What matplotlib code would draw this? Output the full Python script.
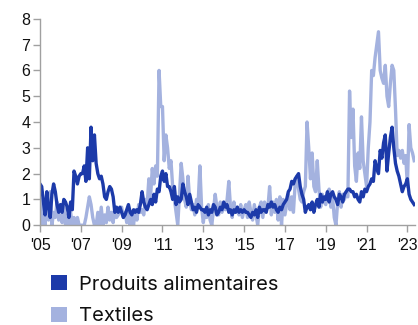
import numpy as np
import matplotlib
matplotlib.use("Agg")
import matplotlib.pyplot as plt
from matplotlib.patches import Patch

# Monthly values, Jan 2005 onwards
food = [
    1.6, 1.5, 0.9, 0.4, 1.3, 0.7, 0.3, 1.2, 1.6, 1.3, 0.8, 0.5,   # 2005
    0.8, 0.5, 1.0, 0.9, 0.7, 0.3, 0.9, 0.6, 2.1, 1.9, 1.6, 1.9,   # 2006
    2.0, 2.0, 2.3, 1.7, 3.0, 1.8, 3.8, 2.5, 3.5, 2.4, 2.0, 1.8,   # 2007
    1.9, 1.6, 1.1, 1.0, 1.3, 1.5, 1.4, 1.1, 0.5, 0.7, 0.5, 0.7,   # 2008
    0.5, 0.3, 0.4, 0.6, 0.8, 0.5, 0.4, 0.6, 0.5, 0.6, 0.5, 0.8,   # 2009
    1.3, 0.9, 0.7, 0.6, 0.8, 1.0, 0.8, 1.2, 0.9, 1.4, 1.3, 1.9,   # 2010
    2.1, 1.7, 2.0, 1.5, 1.5, 1.3, 1.0, 1.5, 0.8, 1.1, 0.9, 1.0,   # 2011
    1.6, 1.3, 1.1, 0.8, 1.2, 0.9, 0.6, 0.7, 0.5, 0.8, 0.7, 0.6,   # 2012
    0.6, 0.5, 0.7, 0.4, 0.6, 0.5, 0.8, 0.7, 0.4, 0.5, 0.7, 0.6,   # 2013
    0.9, 0.7, 0.8, 0.5, 0.6, 0.4, 0.6, 0.5, 0.7, 0.5, 0.6, 0.5,   # 2014
    0.6, 0.5, 0.5, 0.4, 0.3, 0.5, 0.4, 0.6, 0.3, 0.7, 0.5, 0.6,   # 2015
    0.6, 0.5, 0.8, 0.7, 0.9, 0.7, 0.8, 0.6, 0.5, 0.7, 0.6, 0.8,   # 2016
    0.9, 1.0, 1.3, 1.4, 1.7, 1.6, 1.8, 1.9, 2.0, 1.5, 1.2, 1.0,   # 2017
    0.5, 0.7, 0.8, 0.6, 0.9, 0.5, 0.8, 1.0, 0.7, 1.2, 0.9, 1.1,   # 2018
    1.0, 1.3, 0.9, 1.2, 1.3, 1.1, 1.0, 0.8, 1.2, 1.1, 0.9, 1.2,   # 2019
    1.3, 1.4, 1.4, 1.3, 1.3, 1.1, 1.2, 1.0, 0.9, 1.3, 1.1, 1.4,   # 2020
    1.3, 1.5, 1.6, 1.8, 1.7, 2.5, 2.2, 2.0, 2.9, 2.6, 3.2, 3.5,   # 2021
    2.1, 2.8, 3.4, 3.8, 3.0, 2.4, 2.1, 1.9, 1.6, 1.3, 1.5, 1.6,   # 2022
    1.8, 1.2, 1.0, 0.9, 0.8,                                      # 2023
]

textiles = [
    1.0, 0.0, 0.8, 0.0, 1.0, 0.2, 1.3, 0.0, 0.5, 0.3, 0.9, 0.2,   # 2005
    0.4, 0.1, 0.7, 0.0, 0.4, 0.0, 0.5, 0.0, 0.3, 0.0, 0.3, 0.0,   # 2006
    0.0, 0.0, 0.0, 0.3, 0.7, 1.1, 0.8, 0.3, 0.0, 0.0, 0.5, 0.0,   # 2007
    0.7, 0.0, 0.4, 0.1, 0.7, 0.2, 0.5, 0.1, 0.7, 0.3, 0.4, 0.6,   # 2008
    0.7, 0.3, 0.5, 0.1, 0.6, 0.0, 0.4, 0.0, 0.6, 0.2, 0.8, 0.5,   # 2009
    0.6, 0.4, 1.0, 0.8, 1.8, 1.1, 2.2, 1.6, 2.3, 1.9, 6.0, 4.6,   # 2010
    4.6, 2.5, 3.5, 3.0, 2.2, 2.5, 1.5, 1.0, 0.5, 0.0, 1.2, 2.4,   # 2011
    1.8, 1.0, 0.7, 1.9, 1.0, 0.6, 0.8, 0.4, 1.0, 0.9, 2.3, 0.7,   # 2012
    0.1, 0.6, 0.3, 0.8, 0.2, 0.0, 0.6, 1.2, 0.7, 0.4, 0.9, 0.5,   # 2013
    0.8, 0.6, 1.0, 1.7, 0.7, 0.3, 0.9, 0.5, 0.7, 0.4, 0.8, 0.3,   # 2014
    0.6, 0.8, 0.3, 0.9, 0.5, 0.2, 0.8, 0.4, 0.0, 0.7, 0.9, 0.3,   # 2015
    0.9, 0.6, 0.7, 1.5, 0.4, 0.9, 0.5, 1.0, 0.2, 1.1, 0.0, 1.0,   # 2016
    0.4, 0.8, 1.2, 0.6, 1.1, 0.5, 1.6, 1.9, 1.4, 1.0, 0.9, 1.3,   # 2017
    1.5, 4.0, 3.0, 1.8, 2.8, 1.5, 1.3, 2.5, 1.4, 0.7, 1.2, 0.9,   # 2018
    0.8, 1.2, 1.4, 0.7, 1.1, 0.3, 0.0, 0.9, 1.3, 0.7, 1.2, 1.0,   # 2019
    1.2, 1.1, 5.2, 3.4, 4.5, 2.3, 1.7, 2.8, 2.2, 4.2, 2.5, 2.0,   # 2020
    1.5, 3.0, 4.0, 6.0, 5.8, 6.5, 7.0, 7.5, 6.0, 5.7, 5.5, 6.2,   # 2021
    5.0, 4.6, 5.5, 6.2, 6.0, 4.5, 2.7, 2.9, 2.6, 2.9, 2.4, 2.7,   # 2022
    1.5, 3.9, 3.0, 2.8, 2.5,                                      # 2023
]

tick_years = list(range(2005, 2024, 2))
tick_labels = ["'05", "'07", "'09", "'11", "'13", "'15", "'17", "'19", "'21", "'23"]
series_names = ["Produits alimentaires", "Textiles"]

DARK = "#1c3aa9"
LIGHT = "#a4b2df"
AXIS = "#a0a0a0"

x_food = 2005 + np.arange(len(food)) / 12
x_tex = 2005 + np.arange(len(textiles)) / 12

fig = plt.figure(figsize=(4.18, 3.25), dpi=100)
ax = fig.add_axes([0.0957, 0.307, 0.897, 0.635])

ax.plot(x_tex, textiles, color=LIGHT, lw=2.4, solid_joinstyle="round")
ax.plot(x_food, food, color=DARK, lw=2.4, solid_joinstyle="round")

ax.set_xlim(2005, 2023.37)
ax.set_ylim(0, 8)
ax.set_yticks(range(0, 9))
ax.set_xticks(tick_years)
ax.set_xticklabels(tick_labels)

for s in ("top", "right"):
    ax.spines[s].set_visible(False)
for s in ("left", "bottom"):
    ax.spines[s].set_color(AXIS)
    ax.spines[s].set_linewidth(1.0)

ax.tick_params(axis="both", colors=AXIS, length=5, width=1.0,
               labelcolor="#111111", labelsize=11.5)
ax.tick_params(axis="x", pad=4)
ax.tick_params(axis="y", pad=2)
for lab in ax.get_xticklabels() + ax.get_yticklabels():
    lab.set_fontfamily("Liberation Sans")

handles = [Patch(facecolor=DARK, edgecolor="none"),
           Patch(facecolor=LIGHT, edgecolor="none")]
leg = fig.legend(handles, series_names, loc="upper left",
                 bbox_to_anchor=(0.122, 0.154), frameon=False,
                 prop={"family": "Inter", "size": 14.5},
                 handlelength=0.8, handleheight=0.8, handletextpad=0.6,
                 labelspacing=0.65, borderpad=0, borderaxespad=0)
for t in leg.get_texts():
    t.set_color("#111111")

fig.savefig("out.png", dpi=100)
